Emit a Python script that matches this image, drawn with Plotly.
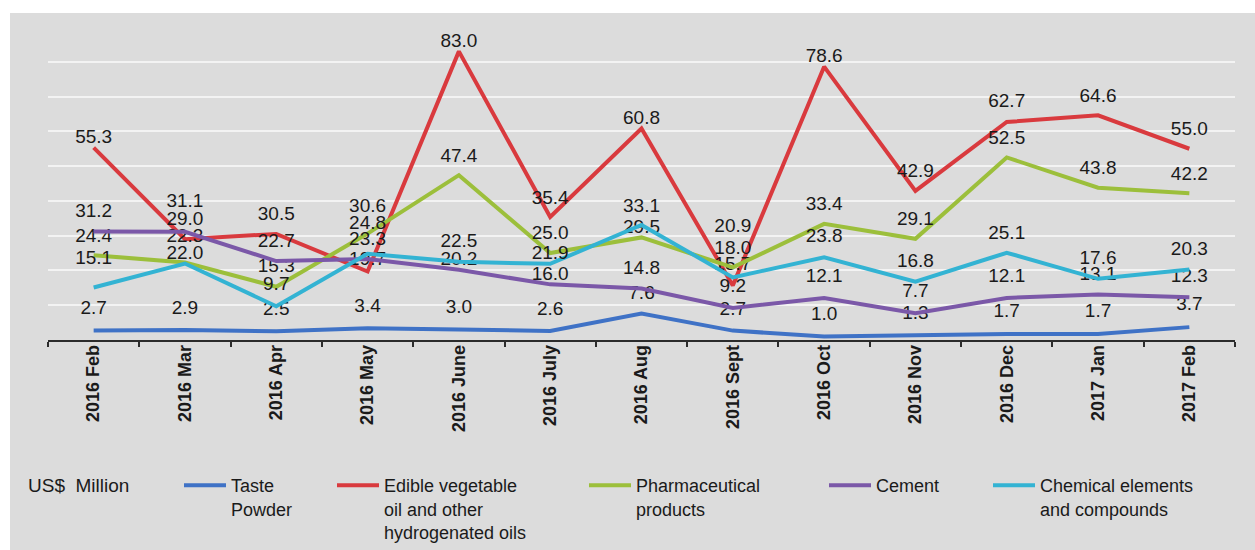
import plotly.graph_objects as go

# ---- data ----
months = ["2016 Feb", "2016 Mar", "2016 Apr", "2016 May", "2016 June", "2016 July",
          "2016 Aug", "2016 Sept", "2016 Oct", "2016 Nov", "2016 Dec", "2017 Jan", "2017 Feb"]
taste_powder = [2.7, 2.9, 2.5, 3.4, 3.0, 2.6, 7.6, 2.7, 1.0, 1.3, 1.7, 1.7, 3.7]
edible_oil = [55.3, 29.0, 30.5, 19.7, 83.0, 35.4, 60.8, 15.7, 78.6, 42.9, 62.7, 64.6, 55.0]
pharmaceutical = [24.4, 22.3, 15.3, 30.6, 47.4, 25.0, 29.5, 20.9, 33.4, 29.1, 52.5, 43.8, 42.2]
cement = [31.2, 31.1, 22.7, 23.3, 20.2, 16.0, 14.8, 9.2, 12.1, 7.7, 12.1, 13.1, 12.3]
chemical = [15.1, 22.0, 9.7, 24.8, 22.5, 21.9, 33.1, 18.0, 23.8, 16.8, 25.1, 17.6, 20.3]

series_names = ["Taste<br>Powder",
                "Edible vegetable<br>oil and other<br>hydrogenated oils",
                "Pharmaceutical<br>products",
                "Cement",
                "Chemical elements<br>and compounds"]
unit_label = "US$&nbsp;&nbsp;Million"

# ---- styling ----
series_values = [taste_powder, edible_oil, pharmaceutical, cement, chemical]
colors = ["#3f72c6", "#d93a3e", "#9cbf3b", "#7b58a8", "#33b3d3"]
legend_swatch_px = [185, 338, 590, 830, 994]
# how far (px) each value label sits above its point, as in the reference
label_lift = [
    [23.5, 23, 23, 23, 23.5, 23, 21.5, 22.5, 23.5, 23.5, 24, 24, 24],
    [8, 21, 21, 13.5, 11.5, 20, 8.5, 22.5, 7, 21, 22, 20.5, 21],
    [20, 27.5, 22, 28.5, 20, 21, 9.5, 42, 21, 21, 20.5, 20.5, 20.5],
    [21.5, 32, 21, 21, 7, 9.5, 21.5, 23, 23, 23, 23, 21.5, 22],
    [30.5, 8.5, 23, 32, 22, 12, 20, 30.5, 22, 21.5, 20.5, 22, 21.5],
]
LABEL_FS = 19

W, H = 1255, 550
L, R, T, B = 48, 20, 34, 210
PW, PH = W - L - R, H - T - B
FONT = "Arial, 'Liberation Sans', Helvetica, sans-serif"
TXT = "#1a1a1a"

def px_x(px):
    return (px - L) / PW

def px_y(py):
    return (H - B - py) / PH

def lift_to_marker(off):
    # plotly puts 'top center' text centre ~0.61*fs + (size/1.6 + 1) above the point
    base = 0.61 * LABEL_FS + 1
    return max(0.0, (off - base) * 1.6)

fig = go.Figure()
legend_keys = ["legend", "legend2", "legend3", "legend4", "legend5"]
for name, vals, col, lk, lifts in zip(series_names, series_values, colors, legend_keys, label_lift):
    fig.add_trace(go.Scatter(
        x=months, y=vals, name=name, legend=lk,
        mode="lines+markers+text",
        line=dict(color=col, width=4),
        marker=dict(size=[lift_to_marker(o) for o in lifts],
                    color="rgba(0,0,0,0)", line=dict(width=0)),
        text=[f"{v:.1f}" for v in vals],
        textposition="top center",
        textfont=dict(family=FONT, size=LABEL_FS, color=TXT),
        cliponaxis=False,
    ))

layout_legends = {}
for lk, sx in zip(legend_keys, legend_swatch_px):
    layout_legends[lk] = dict(
        xref="paper", yref="paper",
        x=px_x(sx - 6), y=px_y(467),
        xanchor="left", yanchor="top",
        bgcolor="rgba(0,0,0,0)", borderwidth=0,
        font=dict(family=FONT, size=18, color=TXT),
        itemwidth=42, valign="top",
    )

fig.update_layout(
    width=W, height=H,
    margin=dict(l=L, r=R, t=T, b=B, pad=0, autoexpand=False),
    paper_bgcolor="white",
    plot_bgcolor="rgba(0,0,0,0)",
    showlegend=True,
    font=dict(family=FONT, color=TXT),
    xaxis=dict(
        type="category", range=[-0.5, len(months) - 0.5], automargin=False,
        showgrid=False, showline=True, linecolor="#2b2b2b", linewidth=1.5,
        ticks="outside", tickson="boundaries", ticklen=5, tickcolor="#2b2b2b", tickwidth=1.5,
        tickangle=-90, ticklabelstandoff=-4,
        tickfont=dict(family=FONT, size=18, color=TXT, weight="bold"),
        fixedrange=True,
    ),
    yaxis=dict(
        range=[0, 88], dtick=10, showgrid=True, gridcolor="#f3f3f3", gridwidth=1.8,
        showticklabels=False, zeroline=False, showline=False, ticks="", automargin=False,
        fixedrange=True,
    ),
    shapes=[dict(
        type="rect", xref="paper", yref="paper", layer="below",
        x0=px_x(10), x1=px_x(W + 5), y0=px_y(H + 5), y1=px_y(13),
        fillcolor="#dcdcdc", line=dict(width=0),
    )],
    annotations=[dict(
        text=unit_label, xref="paper", yref="paper",
        x=px_x(26), y=px_y(485), xanchor="left", yanchor="middle",
        showarrow=False, font=dict(family=FONT, size=19, color=TXT),
    )],
    **layout_legends,
)

fig.write_html(
    "out.html",
    config={"displayModeBar": False},
    post_script="document.body.style.margin='0px';document.body.style.overflow='hidden';",
)
